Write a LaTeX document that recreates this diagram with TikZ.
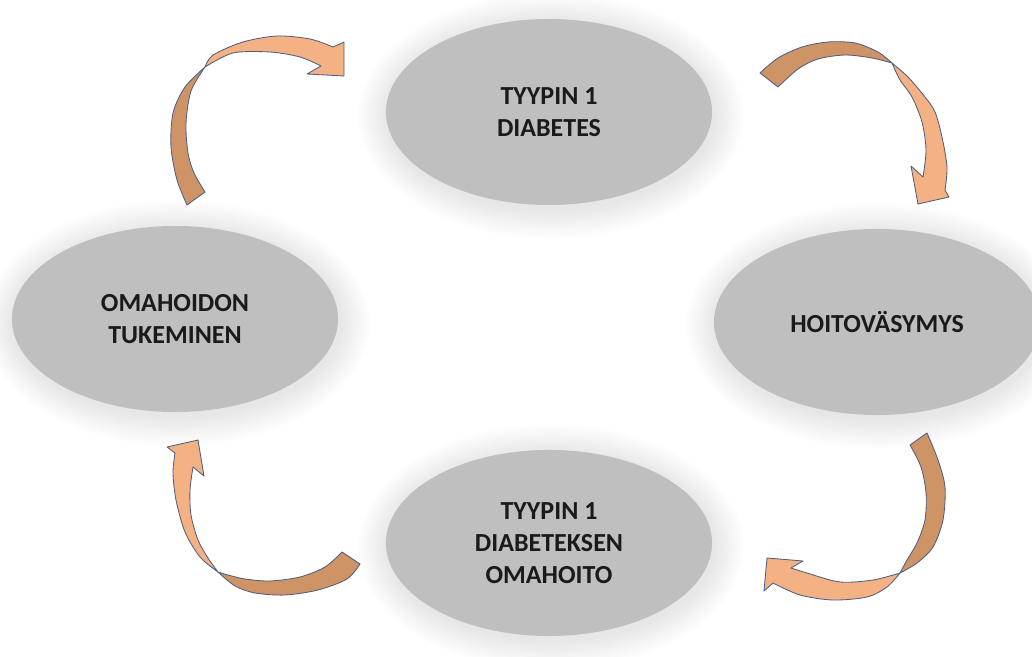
\documentclass[tikz,border=0pt]{standalone}
\usepackage{fontspec}
\setmainfont{Carlito}
\usepackage{tikz}
\usetikzlibrary{shapes.geometric}
\definecolor{bubble}{HTML}{BFBFBF}
\definecolor{ink}{HTML}{1A1A1A}
\definecolor{peach}{HTML}{F4B183}
\definecolor{tan}{HTML}{CF9466}
\definecolor{rim}{HTML}{4F5F7F}
\tikzset{
  stage/.style={ellipse, fill=bubble, inner sep=0pt, minimum width=8.15cm,
    minimum height=4.65cm, text=ink, align=center,
    font=\fontsize{18.5}{22.8}\selectfont\bfseries},
  glow/.style={fill=black, opacity=0.008},
  lightband/.style={fill=peach, draw=rim, line width=0.6pt, line join=round},
  darkband/.style={fill=tan, draw=rim, line width=0.6pt, line join=round}
}

\begin{document}
\begin{tikzpicture}[x=0.025cm, y=-0.025cm]
  \useasboundingbox (0,0) rectangle (1032,657);

  % soft shadow round the ellipses
  \foreach \cx/\cy in {549/112, 175/319, 877/322, 549/543}
    \foreach \g in {1,...,12}
      \fill[glow] (\cx+2,\cy+4) ellipse ({163+2.5*\g} and {93+2.5*\g});

  \node[stage] (diabetes) at (549,112) {TYYPIN 1\\DIABETES};
  \node[stage] (support)  at (175,319) {OMAHOIDON\\TUKEMINEN};
  \node[stage] (fatigue)  at (877,322) {HOITOVÄSYMYS};
  \node[stage] (selfcare) at (549,543) {TYYPIN 1\\DIABETEKSEN\\OMAHOITO};

  % support -> diabetes
  \draw[darkband] plot[smooth] coordinates {(187,205) (177,180) (171,147) (173,113) (185,87) (205,67)}
    -- plot[smooth] coordinates {(205,67) (191,91) (186,123) (188,153) (194,173) (205,192)} -- cycle;
  \draw[lightband] plot[smooth] coordinates {(205,67) (213,55) (243,42) (277,36) (310,39) (333,47)}
    -- (344,42) -- (344,76) -- (307,74) -- (321,66)
    -- plot[smooth] coordinates {(321,66) (300,57) (270,52) (233,53) (205,67)} -- cycle;

  % diabetes -> fatigue
  \draw[darkband] plot[smooth] coordinates {(760,73) (778,58) (802,47) (828,42) (855,43) (878,52) (892,63)}
    -- plot[smooth] coordinates {(892,63) (872,58) (845,55) (818,59) (798,69) (778,87)} -- cycle;
  \draw[lightband] plot[smooth] coordinates {(892,63) (908,77) (925,97) (935,112) (942,137) (947,167) (945,190)}
    -- (949,197) -- (918,204) -- (911,166) -- (923,177)
    -- plot[smooth] coordinates {(923,177) (926,150) (922,122) (912,97) (900,80) (892,63)} -- cycle;

  % fatigue -> selfcare
  \draw[darkband] plot[smooth] coordinates {(927,433) (938,460) (945,487) (943,520) (933,547) (917,563) (900,573)}
    -- plot[smooth] coordinates {(900,573) (907,560) (917,543) (925,520) (926,493) (921,467) (910,445)} -- cycle;
  \draw[lightband] plot[smooth] coordinates {(900,573) (887,587) (867,597) (833,600) (800,595) (773,583)}
    -- (764,591) -- (767,558) -- (803,561) -- (791,568)
    -- plot[smooth] coordinates {(791,568) (807,573) (840,582) (873,580) (900,573)} -- cycle;

  % selfcare -> support
  \draw[darkband] plot[smooth] coordinates {(360,564) (347,579) (318,590) (285,595) (255,593) (235,586) (218,572)}
    -- plot[smooth] coordinates {(218,572) (228,575) (245,579) (270,581) (300,577) (325,567) (342,552)} -- cycle;
  \draw[lightband] plot[smooth] coordinates {(218,572) (200,557) (185,532) (176,500) (173,473) (175,453)}
    -- (167,447) -- (198,440) -- (204,476) -- (193,467)
    -- plot[smooth] coordinates {(193,467) (190,490) (191,515) (198,540) (208,558) (218,572)} -- cycle;
\end{tikzpicture}
\end{document}
